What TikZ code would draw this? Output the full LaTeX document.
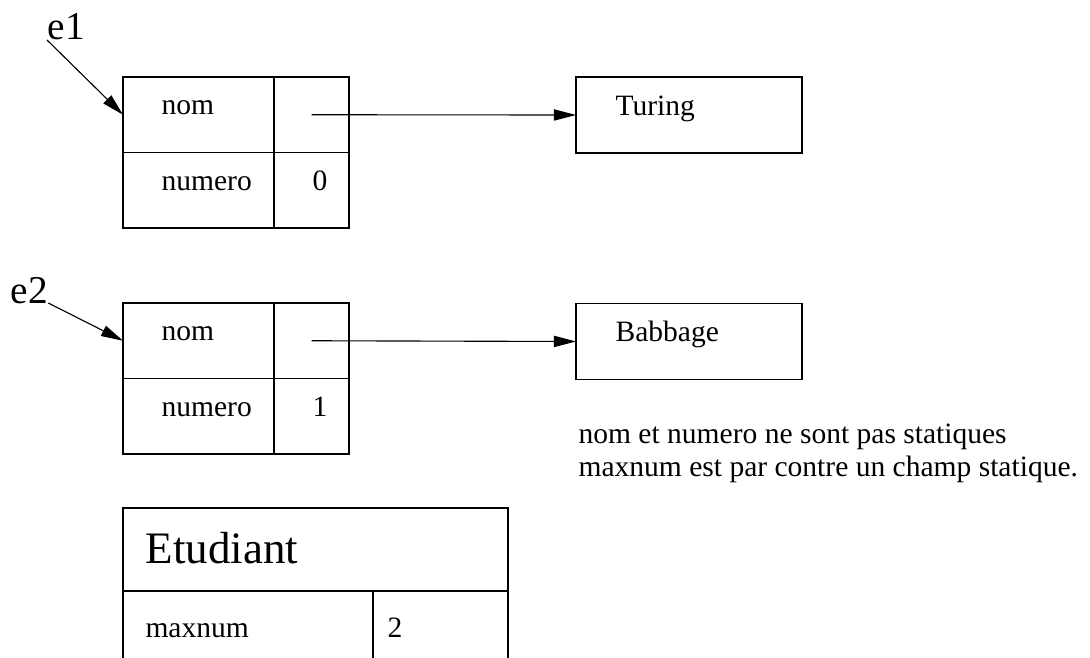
\documentclass[tikz,border=0pt]{standalone}
\usepackage{fontspec}
\setmainfont{Liberation Serif}
\usetikzlibrary{arrows.meta}
\usetikzlibrary{positioning}
\tikzset{
    cell/.style={draw=black, inner sep=0pt, outer sep=0pt, minimum height=1.8875cm},
    namecell/.style={cell, minimum width=3.775cm},
    valcell/.style={cell, minimum width=1.875cm},
    objbox/.style={cell, minimum width=5.65cm, minimum height=1.9cm},
    field/.style={inner sep=0pt, anchor=base west, font=\fontsize{21}{24}\selectfont},
    varname/.style={inner sep=0pt, anchor=base west, font=\fontsize{28}{32}\selectfont},
    ref/.style={draw=black, -{Triangle[length=0.55cm,width=0.28cm]}},
}

\begin{document}
\begin{tikzpicture}[x=0.025cm, y=-0.025cm, line width=.8pt, node distance=0cm]
    \clip (0,0) rectangle (1090,657);
    % objet e1
    \node[namecell] (e1nom) at (198.5,114.75) {};
    \node[namecell, below=of e1nom] (e1num) {};
    \node[valcell, right=of e1nom] (e1ptr) {};
    \node[valcell, right=of e1num] (e1val) {};
    \node[field] (e1nomtxt) at ([xshift=0.95cm]e1nom.west) {nom};
    \node[field] (e1numtxt) at ([xshift=0.95cm]e1num.west) {numero};
    \node[field] (e1valtxt) at ([xshift=0.95cm]e1val.west) {0};
    \node[objbox] (turing) at (689,115) {};
    \node[field] (turingtxt) at ([xshift=0.975cm]turing.west) {Turing};
    \node[varname] (e1) at (47,40) {e1};
    \draw[ref] (e1.base west) -- (e1nom.west);
    \draw[ref] (e1ptr.center) -- (turing.west);

    % objet e2
    \node[namecell] (e2nom) at (198.5,340.75) {};
    \node[namecell, below=of e2nom] (e2num) {};
    \node[valcell, right=of e2nom] (e2ptr) {};
    \node[valcell, right=of e2num] (e2val) {};
    \node[field] (e2nomtxt) at ([xshift=0.95cm]e2nom.west) {nom};
    \node[field] (e2numtxt) at ([xshift=0.95cm]e2num.west) {numero};
    \node[field] (e2valtxt) at ([xshift=0.95cm]e2val.west) {1};
    \node[objbox] (babbage) at (689,341.5) {};
    \node[field] (babbagetxt) at ([xshift=0.975cm]babbage.west) {Babbage};
    \node[varname] (e2) at (10,303) {e2};
    \draw[ref] (e2.base east) -- (e2nom.west);
    \draw[ref] (e2ptr.center) -- (babbage.west);

    \node[field] (note1) at (578,443) {nom et numero ne sont pas statiques};
    \node[field] (note2) at (578,476) {maxnum est par contre un champ statique.};

    % classe
    \node[cell, minimum width=9.625cm, minimum height=2.075cm] (etud) at (315.5,549.5) {};
    \node[varname, font=\fontsize{32}{36}\selectfont] (etudtxt) at ([xshift=0.55cm,yshift=-0.3375cm]etud.west) {Etudiant};
    \node[cell, anchor=north west, minimum width=6.25cm, minimum height=2.3cm] (maxcell) at (etud.south west) {};
    \node[cell, anchor=north west, minimum width=3.375cm, minimum height=2.3cm] (maxval) at (maxcell.north east) {};
    \node[field] (maxtxt) at ([xshift=0.55cm]maxcell.west) {maxnum};
    \node[field] (maxvaltxt) at ([xshift=0.35cm]maxval.west) {2};
\end{tikzpicture}
\end{document}
